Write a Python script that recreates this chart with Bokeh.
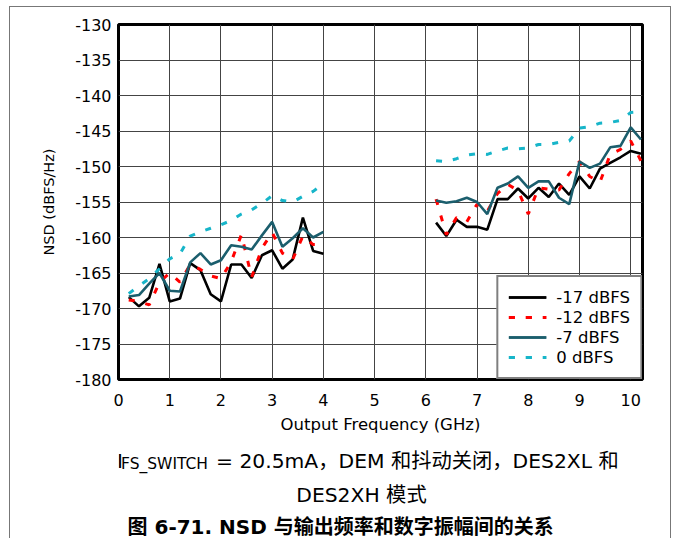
from bokeh.plotting import figure
from bokeh.layouts import column
from bokeh.models import Range1d, FixedTicker, Legend, LegendItem
from bokeh.core.properties import value
from bokeh.embed import file_html
from bokeh.resources import INLINE

# ---------------- data ----------------
freq_low_ghz = [0.2, 0.4, 0.6, 0.8, 1.0, 1.2, 1.4, 1.6, 1.8, 2.0,
                2.2, 2.4, 2.6, 2.8, 3.0, 3.2, 3.4, 3.6, 3.8, 4.0]
freq_high_ghz = [6.2, 6.4, 6.6, 6.8, 7.0, 7.2, 7.4, 7.6, 7.8, 8.0,
                 8.2, 8.4, 8.6, 8.8, 9.0, 9.2, 9.4, 9.6, 9.8, 10.0, 10.2]

nsd_m17_low = [-168.4, -169.7, -168.5, -163.7, -169.0, -168.6, -163.6, -164.6, -168.0, -169.0,
               -163.8, -163.8, -165.7, -162.5, -161.8, -164.4, -163.1, -157.2, -161.9, -162.3]
nsd_m17_high = [-157.9, -159.8, -157.5, -158.5, -158.5, -158.9, -154.6, -154.6, -153.1, -154.5,
                -153.0, -154.3, -152.4, -154.0, -151.4, -153.1, -150.3, -149.5, -148.7, -147.8, -148.2]

nsd_m12_low = [-168.8, -169.0, -169.5, -166.3, -165.0, -166.3, -163.8, -164.5, -165.4, -165.8,
               -163.4, -159.6, -165.6, -161.5, -159.3, -162.2, -163.1, -159.8, -161.0, -161.0]
nsd_m12_high = [-154.6, -159.6, -157.2, -157.8, -155.3, -156.3, -153.8, -152.5, -153.4, -156.7,
                -153.0, -153.2, -153.3, -151.0, -149.3, -151.4, -152.2, -148.3, -147.6, -146.4, -149.2]

nsd_m7_low = [-168.3, -168.1, -166.5, -165.0, -167.5, -167.6, -163.5, -162.2, -163.8, -163.2,
              -161.1, -161.3, -161.7, -159.7, -157.8, -161.3, -160.1, -158.7, -160.0, -159.2]
nsd_m7_high = [-154.8, -155.1, -154.9, -154.4, -155.0, -156.7, -153.0, -152.4, -151.4, -153.0,
               -152.1, -152.1, -154.4, -155.3, -149.3, -150.2, -149.6, -147.3, -147.1, -144.5, -146.2]

nsd_0_low = [-167.9, -166.8, -165.8, -164.4, -163.0, -162.3, -159.8, -159.2, -158.7, -158.2,
             -157.6, -156.7, -156.1, -155.2, -154.1, -154.8, -155.0, -154.2, -153.5, -152.4]
nsd_0_high = [-149.2, -149.3, -148.9, -148.4, -148.2, -148.3, -147.8, -147.4, -147.5, -147.4,
              -146.9, -146.9, -146.6, -146.4, -144.6, -144.4, -143.9, -143.8, -143.5, -142.4, -142.3]

series_labels = ["-17 dBFS", "-12 dBFS", "-7 dBFS", "0 dBFS"]
x_tick_values = [0, 1, 2, 3, 4, 5, 6, 7, 8, 9, 10]
y_tick_values = [-180, -175, -170, -165, -160, -155, -150, -145, -140, -135, -130]
y_tick_labels = ["-180", "-175", "-170", "-165", "-160", "-155", "-150",
                 "-145", "-140", "-135", "-130"]

x_label = "Output Frequency (GHz)"
y_label = "NSD (dBFS/Hz)"
caption_i = "I"
caption_sub = "FS_SWITCH"
caption_rest = "= 20.5mA，DEM 和抖动关闭，DES2XL 和"
caption_line2 = "DES2XH 模式"
figure_title = "图 6-71. NSD 与输出频率和数字振幅间的关系"

# ---------------- styling / layout ----------------
FONT = "DejaVu Sans, Noto Sans CJK SC"
X0, X1 = 0.0, 10.23
Y0, Y1 = -180.0, -130.0
CONTENT_X, CONTENT_Y = 10, 7          # page position of the layout content
W = 660
MAIN_H = 440
CAP_H = 91
CAP_GAP = 6.5                          # observed gap before the caption canvas
F_LEFT, F_TOP, F_W, F_H = 118, 24, 524, 355   # plot frame on the page
B_LEFT = F_LEFT - CONTENT_X
B_RIGHT = W - B_LEFT - F_W

p = figure(width=W, height=MAIN_H,
           x_range=Range1d(X0, X1), y_range=Range1d(Y0, Y1),
           output_backend="svg", toolbar_location=None,
           min_border_left=B_LEFT, min_border_top=F_TOP - CONTENT_Y,
           min_border_right=B_RIGHT,
           min_border_bottom=MAIN_H - (F_TOP - CONTENT_Y) - F_H)
p.background_fill_color = "white"
p.border_fill_color = "white"
p.outline_line_color = "black"
p.outline_line_width = 3

p.xaxis.ticker = FixedTicker(ticks=x_tick_values)
p.yaxis.ticker = FixedTicker(ticks=y_tick_values)
p.yaxis.major_label_overrides = dict(zip(y_tick_values, y_tick_labels))
for ax in (p.xaxis, p.yaxis):
    ax.axis_line_color = None
    ax.major_tick_line_color = None
    ax.major_tick_out = 0
    ax.major_tick_in = 0
    ax.minor_tick_line_color = None
    ax.minor_tick_out = 0
    ax.major_label_text_font = FONT
    ax.major_label_text_font_size = "16px"
    ax.major_label_text_color = "black"
    ax.axis_label_text_font = FONT
    ax.axis_label_text_font_style = "normal"
    ax.axis_label_text_color = "black"
p.yaxis.major_label_standoff = 7
p.xaxis.major_label_standoff = 14
p.xaxis.axis_label = x_label
p.xaxis.axis_label_text_font_size = "16.5px"
p.xaxis.axis_label_standoff = 6
p.yaxis.axis_label = y_label
p.yaxis.axis_label_text_font_size = "14.5px"
p.yaxis.axis_label_standoff = 15

p.grid.grid_line_color = "#444444"
p.grid.grid_line_width = 1

BLACK, RED, TEAL, CYAN = "#000000", "#ff0000", "#1b5e6d", "#17b5c9"
DASH = "6 11"

r17a = p.line(freq_low_ghz, nsd_m17_low, line_color=BLACK, line_width=2.6)
r17b = p.line(freq_high_ghz, nsd_m17_high, line_color=BLACK, line_width=2.6)
r12a = p.line(freq_low_ghz, nsd_m12_low, line_color=RED, line_width=3, line_dash=DASH)
r12b = p.line(freq_high_ghz, nsd_m12_high, line_color=RED, line_width=3, line_dash=DASH)
r7a = p.line(freq_low_ghz, nsd_m7_low, line_color=TEAL, line_width=2.6)
r7b = p.line(freq_high_ghz, nsd_m7_high, line_color=TEAL, line_width=2.6)
r0a = p.line(freq_low_ghz, nsd_0_low, line_color=CYAN, line_width=3, line_dash=DASH)
r0b = p.line(freq_high_ghz, nsd_0_high, line_color=CYAN, line_width=3, line_dash=DASH)

legend = Legend(items=[
    LegendItem(label=value(series_labels[0]), renderers=[r17a, r17b]),
    LegendItem(label=value(series_labels[1]), renderers=[r12a, r12b]),
    LegendItem(label=value(series_labels[2]), renderers=[r7a, r7b]),
    LegendItem(label=value(series_labels[3]), renderers=[r0a, r0b]),
], location="bottom_right", margin=0, padding=10, spacing=0,
   label_height=20, glyph_height=20, glyph_width=38, label_standoff=10,
   border_line_color="black", border_line_width=2,
   background_fill_color="white", background_fill_alpha=1.0,
   label_text_font=FONT, label_text_font_size="16.5px", label_text_color="black")
p.add_layout(legend)

# ---------------- caption panel (coordinates = page pixels) ----------------
# its frame spans the same columns as the chart frame (the column aligns them)
cap_top = CONTENT_Y + MAIN_H + CAP_GAP
cap = figure(width=W, height=CAP_H, title=None,
             x_range=Range1d(F_LEFT, F_LEFT + F_W),
             y_range=Range1d(cap_top + CAP_H, cap_top),
             x_axis_type=None, y_axis_type=None,
             output_backend="svg", toolbar_location=None,
             min_border_left=B_LEFT, min_border_right=B_RIGHT,
             min_border_top=0, min_border_bottom=0)
cap.outline_line_color = None
cap.grid.visible = False
cap.background_fill_color = "white"
cap.border_fill_color = "white"

def cap_text(x, y, text, size, align="left", style="normal"):
    cap.text(x=[x], y=[y], text=[text], text_font=value(FONT),
             text_font_size=value(size), text_font_style=style,
             text_align=align, text_baseline="alphabetic", text_color="black")

cap_text(116.5, 466.5, caption_i, "20.3px")
cap_text(120.5, 470.0, caption_sub, "15.5px")
cap_text(215.5, 466.5, caption_rest, "20.3px")
cap_text(361, 501.0, caption_line2, "20.3px", align="center")
cap_text(127, 533.0, figure_title, "20px", style="bold")

root = column(p, cap, spacing=0)
root.styles = {"margin-left": "9px", "margin-top": "6px",
               "border-left": "1px solid #777777",
               "border-right": "1px solid #777777",
               "border-top": "1px solid #777777"}

open("out.html", "w").write(file_html(root, INLINE))
